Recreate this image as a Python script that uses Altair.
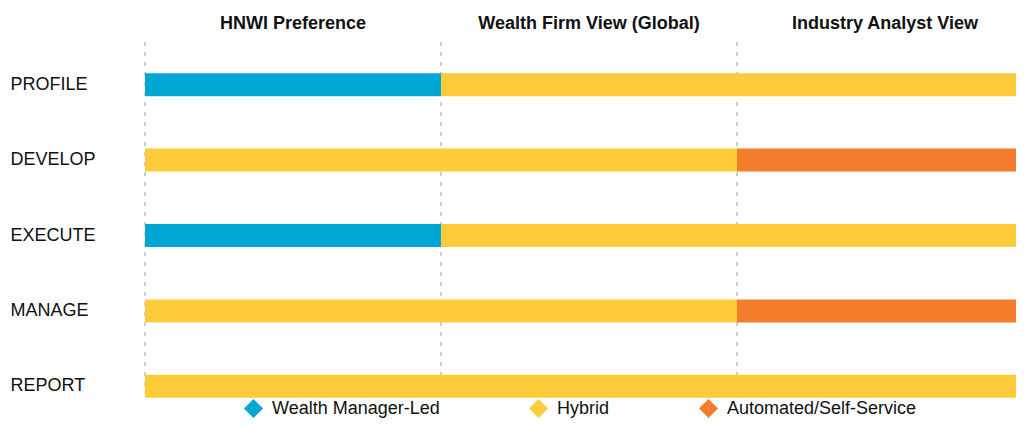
import altair as alt
import pandas as pd

rows = ["PROFILE", "DEVELOP", "EXECUTE", "MANAGE", "REPORT"]
columns = ["HNWI Preference", "Wealth Firm View (Global)", "Industry Analyst View"]
categories = ["Wealth Manager-Led", "Hybrid", "Automated/Self-Service"]
colors = ["#00A7D3", "#FECB3A", "#F47D2C"]

hnwi = ["Wealth Manager-Led", "Hybrid", "Wealth Manager-Led", "Hybrid", "Hybrid"]
firm = ["Hybrid", "Hybrid", "Hybrid", "Hybrid", "Hybrid"]
analyst = ["Hybrid", "Automated/Self-Service", "Hybrid", "Automated/Self-Service", "Hybrid"]

records = []
for col, vals in zip(columns, [hnwi, firm, analyst]):
    for r, v in zip(rows, vals):
        records.append({"row": r, "col": col, "cat": v})
df = pd.DataFrame(records)
cols_df = pd.DataFrame({"col": columns})

FONT = "Liberation Sans"

x_scale = alt.Scale(domain=columns, paddingInner=0, paddingOuter=0, range=[0, 888])
y_scale = alt.Scale(domain=rows, paddingInner=0, paddingOuter=0, range=[0, 377])

x_axis = alt.Axis(
    orient="top", domain=False, ticks=False, tickSize=0, grid=False,
    labelAngle=0, labelFontSize=18, labelFontWeight="bold",
    labelColor="#111111", labelPadding=19, labelBaseline="alphabetic",
    labelFont=FONT, labelLimit=400,
)

rules = alt.Chart(cols_df).mark_rule(
    color="#AEAEAE", strokeWidth=1.2, strokeDash=[4, 6]
).encode(
    x=alt.X("col:N", scale=x_scale, bandPosition=0, axis=x_axis, title=None),
    y=alt.value(-5),
    y2=alt.value(345),
)

bars = alt.Chart(df).mark_bar(
    height=alt.RelativeBandSize(band=0.305), strokeWidth=0
).encode(
    x=alt.X("col:N", scale=x_scale, title=None, axis=x_axis),
    y=alt.Y(
        "row:N",
        scale=y_scale,
        title=None,
        axis=alt.Axis(
            orient="left", domain=False, ticks=False, tickSize=0, grid=False,
            labelAlign="left", labelPadding=135, labelFontSize=18,
            labelColor="#111111", labelBaseline="middle", labelFont=FONT,
        ),
    ),
    color=alt.Color(
        "cat:N",
        scale=alt.Scale(domain=categories, range=colors),
        legend=alt.Legend(
            title=None, orient="none", legendX=99, legendY=352,
            direction="horizontal", columns=3, symbolType="diamond",
            symbolSize=360, symbolStrokeWidth=0, symbolOpacity=1,
            labelFontSize=18, labelColor="#111111", labelFont=FONT,
            labelOffset=9, columnPadding=89, labelLimit=400,
        ),
    ),
)

chart = alt.layer(rules, bars).properties(
    width=871,
    height=371,
    autosize=alt.AutoSizeParams(type="none"),
    padding={"left": 137, "top": 39, "right": 0, "bottom": 0},
    background="white",
).configure(font=FONT).configure_view(strokeWidth=0, stroke="transparent")

chart.save("out.html", embed_options={"renderer": "svg", "actions": False})
